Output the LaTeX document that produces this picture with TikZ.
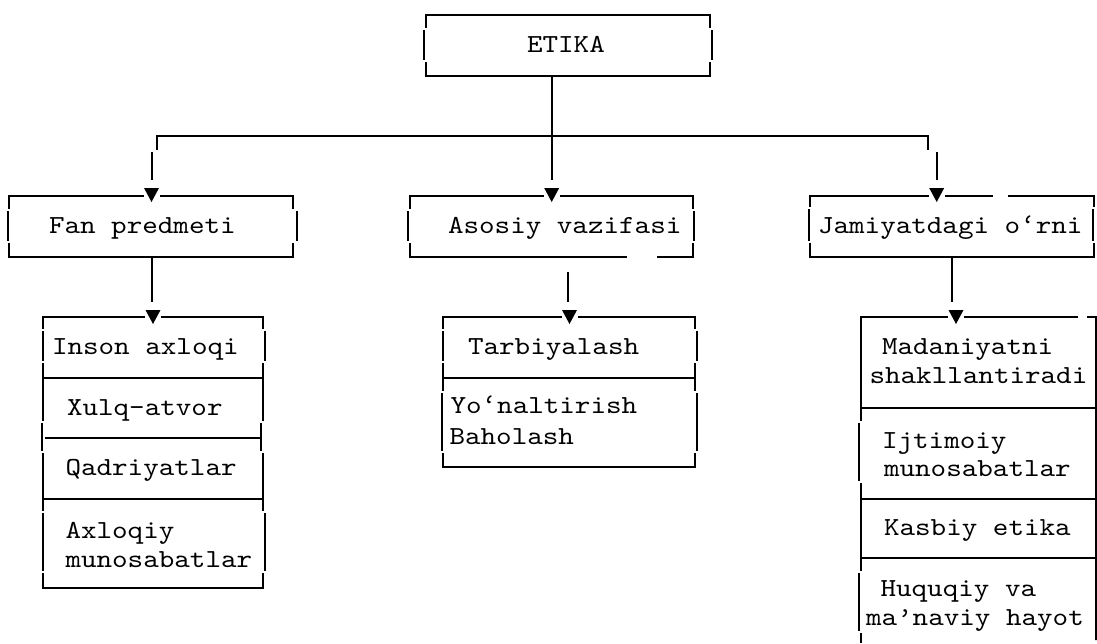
\documentclass[tikz,border=0pt]{standalone}
\usepackage{fontspec}
\newfontfamily\cour{lmmono10-regular}[Extension=.otf,FakeStretch=1.14]
\newcommand\arrhead[2]{%
  \fill[white] ({#1-8},{#2-8.5}) rectangle ({#1+8},{#2-4});
  \fill ({#1-7.5},{#2-14}) -- ({#1+7.5},{#2-14}) -- (#1,#2) -- cycle;}
% side segment of a box edge drawn with box-drawing glyphs: x, y1, y2, offset
\newcommand\vside[4]{%
  \fill[white] ({#1-1.8},{#2-1}) rectangle ({#1+1.8},{#3+1});
  \draw[line width=2pt] ({#1+#4},{#2+1}) -- ({#1+#4},{#3-1});}
\begin{document}
\begin{tikzpicture}[x=1pt,y=-1pt,
  ln/.style={line width=2pt},
  bx/.style={draw, line width=2pt, inner sep=0pt, outer sep=0pt, anchor=north west},
  txt/.style={anchor=base west, inner sep=0pt, outer sep=0pt, font=\cour\fontsize{26}{30}\selectfont},
  gap/.style={fill=white}]
\useasboundingbox (0,0) rectangle (1097,643);
% ---- boxes
\node[bx, minimum width=284.3pt, minimum height=61pt] (etika) at (425.7,15) {};
\node[bx, minimum width=284pt, minimum height=60.7pt] (fan) at (9.3,196) {};
\node[bx, minimum width=282.7pt, minimum height=60.7pt] (asos) at (410,196) {};
\node[bx, minimum width=284pt, minimum height=60.7pt] (jam) at (810,196) {};
% broken side edges
\vside{425.7}{29}{61}{-2}
\vside{710}{29}{61}{2}
\vside{9.3}{210}{242}{-1.5}
\vside{293.3}{210}{242}{3.3}
\vside{410}{210}{242}{-2}
\vside{692.7}{210}{242}{1.6}
\vside{810}{208}{242}{-1}
\vside{1094}{208}{242}{-0.8}
% left column
\node[bx, minimum width=220pt, minimum height=61.6pt] (l1) at (43.3,316.7) {};
\node[bx, minimum width=220pt, minimum height=59.4pt] (l2) at (l1.south west) {};
\node[bx, minimum width=220pt, minimum height=61.6pt] (l3) at (l2.south west) {};
\node[bx, minimum width=220pt, minimum height=89pt] (l4) at (l3.south west) {};
\vside{43.3}{330}{362}{-0.8}
\vside{263.3}{330}{362}{1.5}
\vside{43.3}{422}{452}{-1.5}
\vside{263.3}{422}{452}{-2}
\vside{43.3}{512}{572}{0}
\vside{263.3}{512}{572}{1.5}
% middle column
\node[bx, minimum width=251.7pt, minimum height=61.6pt] (m1) at (443.3,316.7) {};
\node[bx, minimum width=251.7pt, minimum height=88.4pt] (m2) at (m1.south west) {};
\vside{443.3}{330}{362}{-0.5}
\vside{695}{330}{362}{2}
\vside{443.3}{392}{452}{-1}
\vside{695}{392}{452}{1.5}
% right column
\node[bx, minimum width=235.3pt, minimum height=91.6pt] (r1) at (860.7,316.7) {};
\node[bx, minimum width=235.3pt, minimum height=91pt] (r2) at (r1.south west) {};
\node[bx, minimum width=235.3pt, minimum height=59pt] (r3) at (r2.south west) {};
\coordinate (r4bl) at (860.7,643);
\coordinate (r4br) at (1096,640);
\draw[ln] (r3.south west) -- (r4bl);
\draw[ln] (r3.south east) -- (r4br);
\vside{860.7}{422}{482}{-1.5}
\vside{860.7}{572}{632}{-1.5}
% gaps in box lines
\fill[gap] (626.7,254) rectangle (656.7,259.5);
\fill[gap] (993,193) rectangle (1008,199);
\fill[gap] (1078,313.5) rectangle (1086.7,319.5);
% ---- texts
\node[txt] (tEtika) at (527,52) {ETIKA};
\node[txt] (tFan) at (49,233) {Fan predmeti};
\node[txt] (tAsos) at (448,233) {Asosiy vazifasi};
\node[txt] (tJam) at (818,233) {Jamiyatdagi o‘rni};
\node[txt] (tl1) at (52,354) {Inson axloqi};
\node[txt] (tl2) at (67,415) {Xulq-atvor};
\node[txt] (tl3) at (65.5,475) {Qadriyatlar};
\node[txt] (tl4a) at (65.5,538) {Axloqiy};
\node[txt] (tl4b) at (65.5,567) {munosabatlar};
\node[txt] (tm1) at (468,354) {Tarbiyalash};
\node[txt] (tm2a) at (450.5,413.3) {Yo‘naltirish};
\node[txt] (tm2b) at (449.5,444) {Baholash};
\node[txt] (tr1a) at (882,354) {Madaniyatni};
\node[txt] (tr1b) at (869.5,383.3) {shakllantiradi};
\node[txt] (tr2a) at (882,448.3) {Ijtimoiy};
\node[txt] (tr2b) at (884,476.7) {munosabatlar};
\node[txt] (tr3) at (884,535) {Kasbiy etika};
\node[txt] (tr4a) at (880.5,596.7) {Huquqiy va};
\node[txt] (tr4b) at (866,625) {ma’naviy hayot};
% ---- connectors
\coordinate (sx) at (551.7,180);
\coordinate (hb) at (551.7,135.7);
\coordinate (bl) at (157,150);
\coordinate (br) at (928,150);
\draw[ln] (etika.south -| sx) -- (sx);
\draw[ln] (bl) -- (bl |- hb) -- (br |- hb) -- (br);
\coordinate (dl) at (151.7,180);
\coordinate (dr) at (936.7,180);
\draw[ln] (151.7,152) -- (dl);
\draw[ln] (936.7,152) -- (dr);
\arrhead{151.5}{202}
\arrhead{551.7}{202}
\arrhead{936.7}{202}
% second level
\coordinate (el) at (151.7,302);
\coordinate (em) at (568,302);
\coordinate (er) at (951.7,302);
\draw[ln] (fan.south -| el) -- (el);
\draw[ln] (568,272) -- (em);
\draw[ln] (jam.south -| er) -- (er);
\arrhead{153}{324}
\arrhead{569.5}{324}
\arrhead{956}{324}
\end{tikzpicture}
\end{document}
